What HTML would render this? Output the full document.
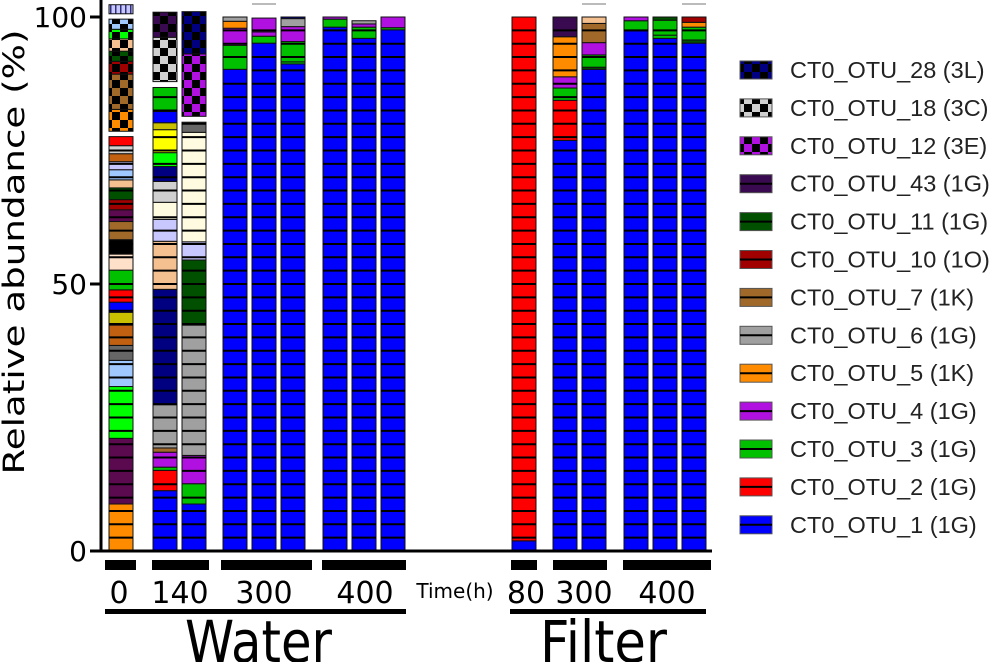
<!DOCTYPE html>
<html><head><meta charset="utf-8"><style>
body{margin:0;background:#fff;}
svg{display:block;font-family:"DejaVu Sans","Liberation Sans",sans-serif;}
</style></head><body>
<svg id="chart" width="1000" height="662" viewBox="0 0 1000 662" xmlns="http://www.w3.org/2000/svg">
<defs id="defs"></defs>
<g id="bars"></g>
<g id="axes"></g>
<g id="legend"></g>
</svg>
<script>
const C={blue:'#0000ff',red:'#ff0000',green:'#00c000',purple:'#b010e0',orange:'#ff8c00',grey:'#a0a0a0',brown:'#a0692a',darkred:'#a00000',darkgreen:'#005000',darkpurple:'#3a0a50',navy:'#000080',lime:'#00ff00',lightblue:'#9fc8ff',dgrey:'#666666',brown2:'#c06010',olive:'#c8c000',peach:'#f5c090',cream:'#fffbe0',black:'#000000',lav:'#c8c8ff',lgrey:'#d0d0d0',peach2:'#ffe0c8',yellow:'#ffff00',gap:null,mpurple:'#5c0a4f'};
const barLabels=['W0','W140a','W140b','W300a','W300b','W300c','W400a','W400b','W400c','F80','F300a','F300b','F400a','F400b','F400c'];
const barX=[109,153,182,223,252,281,323,352,381,512,553,582,624,653,682];
const bar0=[['orange',8.8],['mpurple',12.3],['lime',9.7],['lightblue',4.9],['dgrey',2.8],['brown2',3.8],['olive',2.4],['blue',1.9],['red',2.3],['green',3.7],['peach2',3.0],['black',2.7],['brown',3.4],['mpurple',2.2],['darkred',1.9],['darkgreen',2.2],['peach',1.5],['lightblue',1.9],['lav',1.5],['brown2',1.5],['lgrey',1.5],['red',1.7],['gap',1.0],['orange',4.1,1],['brown',6.6,1],['darkred',2.4,1],['darkgreen',1.9,1],['peach',2.3,1],['lime',1.8,1],['lightblue',1.9,1],['gap',1.0],['lav',1.7,2]];
const bar1=[['blue',11.3],['red',3.8],['green',0.6],['purple',2.8],['brown',0.8],['grey',8.1],['navy',21.6],['peach',9.0],['lav',4.1],['cream',3.2],['lgrey',3.9],['navy',2.8],['lime',2.6],['yellow',4.3],['olive',1.3],['blue',2.1],['green',4.5],['gap',1.1],['lgrey',8.3,1],['darkpurple',4.7,1]];
const bar2=[['blue',8.8],['green',3.8],['purple',5.3],['grey',24.4],['darkgreen',12.2],['lav',3.4],['cream',20.5],['dgrey',1.9],['gap',1.1],['purple',11.7,1],['navy',7.9,1]];
const bar3=[['blue',90.2],['green',4.5],['purple',3.2],['orange',1.3],['grey',0.8]];
const bar4=[['blue',95.1],['green',1.3],['purple',0.8],['purple',2.6]];
const bar5=[['blue',91.2],['green',0.4],['green',3.8],['purple',2.8],['grey',1.5],['navy',0.3]];
const bar6=[['blue',98.1],['green',1.5],['purple',0.4]];
const bar7=[['blue',96.0],['green',2.1],['purple',0.6],['grey',0.6]];
const bar8=[['blue',97.6],['green',0.4],['purple',2.0]];
const bar9=[['blue',1.9],['red',98.1]];
const bar10=[['blue',76.9],['red',7.5],['green',2.3],['purple',2.1],['orange',7.5],['darkpurple',3.7]];
const bar11=[['blue',90.2],['darkgreen',0.4],['green',2.3],['purple',2.3],['brown',3.6],['peach',1.2]];
const bar12=[['blue',97.4],['green',1.9],['purple',0.7]];
const bar13=[['blue',96.0],['green',0.6],['green',2.8],['darkgreen',0.6]];
const bar14=[['blue',95.1],['darkgreen',0.6],['green',2.4],['orange',0.9],['darkred',1.0]];
const series=[bar0,bar1,bar2,bar3,bar4,bar5,bar6,bar7,bar8,bar9,bar10,bar11,bar12,bar13,bar14];
const yTicks=[0,50,100];
const groupLabels=['0','140','300','400','80','300','400'];
const legendNames=['CT0_OTU_28 (3L)','CT0_OTU_18 (3C)','CT0_OTU_12 (3E)','CT0_OTU_43 (1G)','CT0_OTU_11 (1G)','CT0_OTU_10 (1O)','CT0_OTU_7 (1K)','CT0_OTU_6 (1G)','CT0_OTU_5 (1K)','CT0_OTU_4 (1G)','CT0_OTU_3 (1G)','CT0_OTU_2 (1G)','CT0_OTU_1 (1G)'];
const legendColors=['navy','lgrey','purple','darkpurple','darkgreen','darkred','brown','grey','orange','purple','green','red','blue'];
const legendChecker=[1,1,1,0,0,0,0,0,0,0,0,0,0];

const NS='http://www.w3.org/2000/svg';
const Y0=551,Y100=17,BW=24;
const y=v=>Y0-(Y0-Y100)*v/100;
function mk(tag,attrs,parent){const e=document.createElementNS(NS,tag);for(const k in attrs)e.setAttribute(k,attrs[k]);parent.appendChild(e);return e;}
const defs=document.getElementById('defs');
const pats={};
function checker(col){
  if(pats[col])return pats[col];
  const id='chk_'+col;
  const p=mk('pattern',{id:id,width:16,height:16,patternUnits:'userSpaceOnUse'},defs);
  mk('rect',{x:0,y:0,width:16,height:16,fill:C[col]},p);
  mk('rect',{x:0,y:0,width:8,height:8,fill:'#000'},p);
  mk('rect',{x:8,y:8,width:8,height:8,fill:'#000'},p);
  pats[col]='url(#'+id+')';return pats[col];
}
function vstripe(col){
  const id='vs_'+col;
  const p=mk('pattern',{id:id,width:5,height:10,patternUnits:'userSpaceOnUse'},defs);
  mk('rect',{x:0,y:0,width:5,height:10,fill:C[col]},p);
  mk('rect',{x:0,y:0,width:1.5,height:10,fill:'#303080'},p);
  return 'url(#'+id+')';
}
const gb=document.getElementById('bars');
series.forEach((segs,i)=>{
  const g=mk('g',{},gb);
  
  
  let cum=0;
  segs.forEach(s=>{
    const [col,v,chk]=s;
    const top=y(cum+v),bot=y(cum);
    if(col!=='gap'){
      const fill=chk===1?checker(col):chk===2?vstripe(col):C[col];
      const r=mk('rect',{x:barX[i],y:top,width:BW,height:bot-top,fill:fill,stroke:'#111','stroke-width':1},g);
      
      
      if(!chk){
        for(let t=Math.ceil((cum+0.01)/2.5)*2.5;t<cum+v-0.3;t+=2.5){
          mk('line',{x1:barX[i],x2:barX[i]+BW,y1:y(t),y2:y(t),stroke:'#000','stroke-width':2},g);
        }
      }
    }
    cum+=v;
  });
});
[4,11,14].forEach(i=>mk('line',{x1:barX[i],x2:barX[i]+BW,y1:4,y2:4,stroke:'#bbb','stroke-width':2},gb));

const ga=document.getElementById('axes');
const yl=mk('line',{x1:101,x2:101,y1:0,y2:552,stroke:'#000','stroke-width':3},ga);

const xl=mk('line',{x1:100,x2:712,y1:Y0,y2:Y0,stroke:'#000','stroke-width':3},ga);

yTicks.forEach(t=>{
  mk('line',{x1:90,x2:101,y1:y(t),y2:y(t),stroke:'#000','stroke-width':3},ga);
  const tx=mk('text',{x:87,y:y(t)+10,'text-anchor':'end','font-size':28},ga);
  tx.textContent=t;
  
});
const yt=mk('text',{x:0,y:0,transform:'translate(24,252) rotate(-90)','text-anchor':'middle','font-size':29,textLength:445,lengthAdjust:'spacingAndGlyphs'},ga);
yt.textContent='Relative abundance (%)';

const groupBars=[[105,136],[152,209],[221,312],[322,406],[511,537],[553,607],[623,711]];
const labX=[119,180,264,365,526,584,667];
groupBars.forEach((b,i)=>{
  const r=mk('rect',{x:b[0],y:560,width:b[1]-b[0],height:10,fill:'#000'},ga);
  
  const t=mk('text',{x:labX[i],y:603,'text-anchor':'middle','font-size':30},ga);
  t.textContent=groupLabels[i];
  
});
const th=mk('text',{x:455,y:598,'text-anchor':'middle','font-size':20},ga);
th.textContent='Time(h)';
mk('rect',{x:105,y:609,width:301,height:5,fill:'#000'},ga);
mk('rect',{x:510,y:609,width:196,height:5,fill:'#000'},ga);
const w=mk('text',{x:185,y:662,'font-size':58,textLength:147,lengthAdjust:'spacingAndGlyphs'},ga);
w.textContent='Water';
const f=mk('text',{x:540,y:662,'font-size':58,textLength:127,lengthAdjust:'spacingAndGlyphs'},ga);
f.textContent='Filter';

const gl=document.getElementById('legend');
legendNames.forEach((n,i)=>{
  const cy=70+i*37.9;
  const g=mk('g',{},gl);
  
  
  mk('rect',{x:740,y:cy-9,width:32,height:18,fill:legendChecker[i]?checker(legendColors[i]):C[legendColors[i]],stroke:'#555','stroke-width':1},g);
  if(!legendChecker[i])mk('line',{x1:740,x2:772,y1:cy,y2:cy,stroke:'#000','stroke-width':2},g);
  const t=mk('text',{x:790,y:cy+8,'font-size':23.5,fill:'#222',"font-family":"Liberation Sans, sans-serif"},g);
  t.textContent=n;
});
</script>
</body></html>
